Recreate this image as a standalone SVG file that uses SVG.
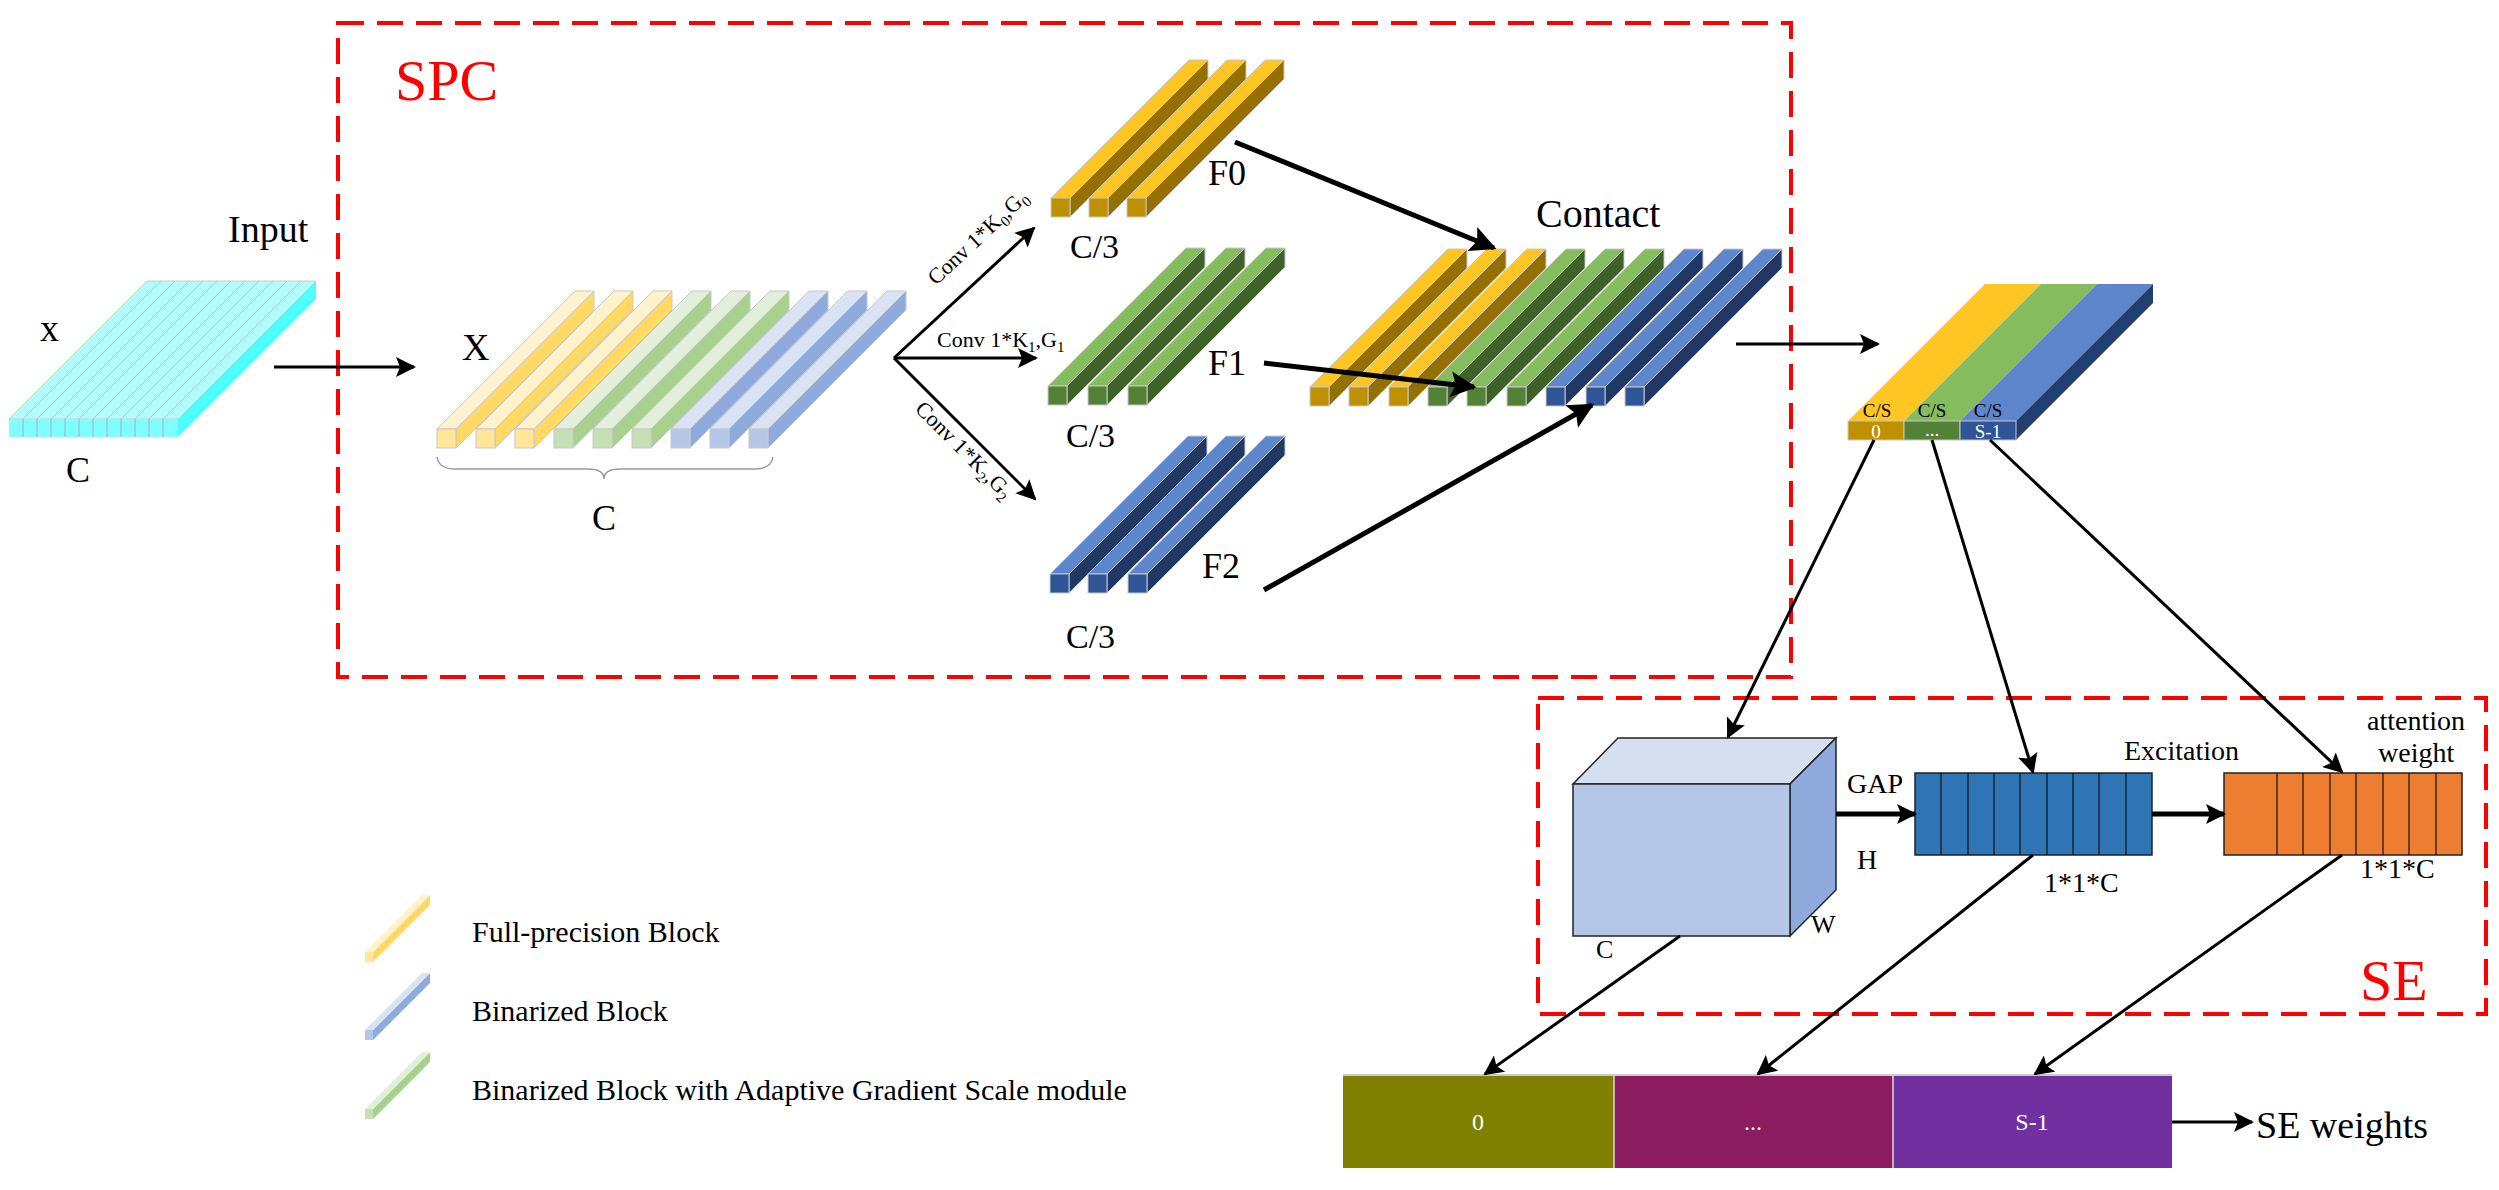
<svg xmlns="http://www.w3.org/2000/svg" xmlns:xlink="http://www.w3.org/1999/xlink" width="2499" height="1190" viewBox="0 0 2499 1190" font-family="'Liberation Serif', 'DejaVu Serif', serif">
<style>
text{font-family:'Liberation Serif','DejaVu Serif',serif;fill:#000}
.red{fill:#ff0000}
.dash{fill:none;stroke:#ff0000;stroke-width:4;stroke-dasharray:26 13}
.ln{fill:none;stroke:#000;stroke-width:3}
.thk{fill:none;stroke:#000;stroke-width:5}
.bs{stroke:#c8c8c8;stroke-width:1}
.wt{fill:#fff}
</style>
<defs>
<marker id="ah" viewBox="0 0 10 10" refX="9" refY="5" markerWidth="20" markerHeight="20" markerUnits="userSpaceOnUse" orient="auto"><path d="M0,0 L10,5 L0,10 L2,5 Z" fill="#000"/></marker>
<marker id="ahb" viewBox="0 0 10 10" refX="9" refY="5" markerWidth="26" markerHeight="26" markerUnits="userSpaceOnUse" orient="auto"><path d="M0,0 L10,5 L0,10 L2,5 Z" fill="#000"/></marker>
<g id="xy" class="bs"><polygon points="0,0 19,0 157,-138 138,-138" fill="#FFF2CC"/><polygon points="19,0 157,-138 157,-119 19,19" fill="#FFD966"/><rect width="19" height="19" fill="#FFE699"/></g>
<g id="xg" class="bs"><polygon points="0,0 19,0 157,-138 138,-138" fill="#E2EFDA"/><polygon points="19,0 157,-138 157,-119 19,19" fill="#A9D18E"/><rect width="19" height="19" fill="#C5E0B4"/></g>
<g id="xb" class="bs"><polygon points="0,0 19,0 157,-138 138,-138" fill="#DAE3F3"/><polygon points="19,0 157,-138 157,-119 19,19" fill="#8FAADC"/><rect width="19" height="19" fill="#B4C7E7"/></g>
<g id="fy" class="bs"><polygon points="0,0 19,0 157,-138 138,-138" fill="#FFC522"/><polygon points="19,0 157,-138 157,-119 19,19" fill="#937000"/><rect width="19" height="19" fill="#BF9000"/></g>
<g id="fg" class="bs"><polygon points="0,0 19,0 157,-138 138,-138" fill="#84BC5E"/><polygon points="19,0 157,-138 157,-119 19,19" fill="#3F6229"/><rect width="19" height="19" fill="#538135"/></g>
<g id="fb" class="bs"><polygon points="0,0 19,0 157,-138 138,-138" fill="#5E86CC"/><polygon points="19,0 157,-138 157,-119 19,19" fill="#203864"/><rect width="19" height="19" fill="#2F5597"/></g>
</defs>

<rect width="2499" height="1190" fill="#fff"/>

<g id="spc-box"><rect x="338" y="23" width="1453" height="654" class="dash"/><text x="395" y="100" font-size="58" class="red">SPC</text></g>
<g id="se-box"><rect x="1538" y="698" width="948" height="316" class="dash"/><text x="2360" y="1000" font-size="58" class="red">SE</text></g>

<g id="input">
<polygon points="147,281 316,281 178,419 9,419" fill="#B4FCFC" stroke="#ccc"/>
<g stroke="#c0c0c0" stroke-width="1">
<line x1="161" y1="281" x2="23" y2="419"/><line x1="175" y1="281" x2="37" y2="419"/><line x1="189" y1="281" x2="51" y2="419"/><line x1="203" y1="281" x2="65" y2="419"/><line x1="217" y1="281" x2="79" y2="419"/><line x1="231" y1="281" x2="93" y2="419"/><line x1="245" y1="281" x2="107" y2="419"/><line x1="259" y1="281" x2="121" y2="419"/><line x1="273" y1="281" x2="135" y2="419"/><line x1="287" y1="281" x2="149" y2="419"/><line x1="301" y1="281" x2="163" y2="419"/>
</g>
<polygon points="178,419 316,281 316,299 178,437" fill="#4DFFFF"/>
<rect x="9" y="419" width="169" height="18" fill="#7FFFFF"/>
<g stroke="#aaa" stroke-width="1"><line x1="23" y1="419" x2="23" y2="437"/><line x1="37" y1="419" x2="37" y2="437"/><line x1="51" y1="419" x2="51" y2="437"/><line x1="65" y1="419" x2="65" y2="437"/><line x1="79" y1="419" x2="79" y2="437"/><line x1="93" y1="419" x2="93" y2="437"/><line x1="107" y1="419" x2="107" y2="437"/><line x1="121" y1="419" x2="121" y2="437"/><line x1="135" y1="419" x2="135" y2="437"/><line x1="149" y1="419" x2="149" y2="437"/><line x1="163" y1="419" x2="163" y2="437"/></g>
<text x="228" y="242" font-size="38">Input</text>
<text x="40" y="341" font-size="38">x</text>
<text x="66" y="482" font-size="36">C</text>
</g>

<g id="x-split">
<use href="#xy" x="437" y="429"/><use href="#xy" x="476" y="429"/><use href="#xy" x="515" y="429"/>
<use href="#xg" x="554" y="429"/><use href="#xg" x="593" y="429"/><use href="#xg" x="632" y="429"/>
<use href="#xb" x="671" y="429"/><use href="#xb" x="710" y="429"/><use href="#xb" x="749" y="429"/>
<text x="462" y="360" font-size="38">X</text>
<path d="M437,457 q2,12 18,12 H588 q16,0 16,10 q0,-10 16,-10 H755 q16,0 18,-12" fill="none" stroke="#999" stroke-width="1.5"/>
<text x="592" y="530" font-size="36">C</text>
</g>

<g id="F0"><use href="#fy" x="1051" y="198"/><use href="#fy" x="1089" y="198"/><use href="#fy" x="1127" y="198"/>
<text x="1208" y="185" font-size="36">F0</text><text x="1070" y="258" font-size="34">C/3</text></g>
<g id="F1"><use href="#fg" x="1048" y="386"/><use href="#fg" x="1088" y="386"/><use href="#fg" x="1128" y="386"/>
<text x="1208" y="375" font-size="36">F1</text><text x="1066" y="447" font-size="34">C/3</text></g>
<g id="F2"><use href="#fb" x="1050" y="574"/><use href="#fb" x="1088" y="574"/><use href="#fb" x="1128" y="574"/>
<text x="1202" y="578" font-size="36">F2</text><text x="1066" y="648" font-size="34">C/3</text></g>

<g id="contact">
<use href="#fy" x="1310" y="387"/><use href="#fy" x="1349" y="387"/><use href="#fy" x="1389" y="387"/>
<use href="#fg" x="1428" y="387"/><use href="#fg" x="1467" y="387"/><use href="#fg" x="1507" y="387"/>
<use href="#fb" x="1546" y="387"/><use href="#fb" x="1586" y="387"/><use href="#fb" x="1625" y="387"/>
<text x="1536" y="227" font-size="40">Contact</text>
</g>

<g id="split-slab">
<polygon points="1848,421 1904,421 2041,284 1985,284" fill="#FFC522"/>
<polygon points="1904,421 1960,421 2097,284 2041,284" fill="#84BC5E"/>
<polygon points="1960,421 2016,421 2153,284 2097,284" fill="#5E86CC"/>
<polygon points="2016,421 2153,284 2153,303 2016,440" fill="#223F70"/>
<rect x="1848" y="421" width="56" height="19" fill="#BF9000" class="bs"/>
<rect x="1904" y="421" width="56" height="19" fill="#538135" class="bs"/>
<rect x="1960" y="421" width="56" height="19" fill="#2F5597" class="bs"/>
<g font-size="19" text-anchor="middle"><text x="1877" y="417">C/S</text><text x="1932" y="417">C/S</text><text x="1988" y="417">C/S</text>
<text x="1876" y="438" class="wt">0</text><text x="1932" y="436" class="wt">...</text><text x="1988" y="438" class="wt">S-1</text></g>
</g>

<g id="se-cube">
<polygon points="1573,784 1618,738 1836,738 1790,784" fill="#D6DFF0" stroke="#222" stroke-width="1.5"/>
<polygon points="1790,784 1836,738 1836,890 1790,936" fill="#8FAADC" stroke="#222" stroke-width="1.5"/>
<rect x="1573" y="784" width="217" height="152" fill="#B4C7E7" stroke="#222" stroke-width="1.5"/>
<text x="1847" y="793" font-size="28">GAP</text><text x="1857" y="869" font-size="28">H</text>
<text x="1811" y="933" font-size="26">W</text><text x="1596" y="958" font-size="26">C</text>
</g>
<g id="gap-vec">
<rect x="1915" y="773" width="237" height="82" fill="#2E75B6" stroke="#222" stroke-width="1.5"/>
<g stroke="#111" stroke-width="1.2"><line x1="1941" y1="773" x2="1941" y2="855"/><line x1="1968" y1="773" x2="1968" y2="855"/><line x1="1994" y1="773" x2="1994" y2="855"/><line x1="2020" y1="773" x2="2020" y2="855"/><line x1="2047" y1="773" x2="2047" y2="855"/><line x1="2073" y1="773" x2="2073" y2="855"/><line x1="2099" y1="773" x2="2099" y2="855"/><line x1="2126" y1="773" x2="2126" y2="855"/></g>
<text x="2044" y="892" font-size="28">1*1*C</text>
<text x="2124" y="760" font-size="28">Excitation</text>
</g>
<g id="att-vec">
<rect x="2224" y="773" width="238" height="82" fill="#ED7D31" stroke="#222" stroke-width="1.5"/>
<g stroke="#111" stroke-width="1.2"><line x1="2277" y1="773" x2="2277" y2="855"/><line x1="2303" y1="773" x2="2303" y2="855"/><line x1="2330" y1="773" x2="2330" y2="855"/><line x1="2356" y1="773" x2="2356" y2="855"/><line x1="2383" y1="773" x2="2383" y2="855"/><line x1="2409" y1="773" x2="2409" y2="855"/><line x1="2436" y1="773" x2="2436" y2="855"/></g>
<text x="2360" y="878" font-size="28">1*1*C</text>
<text x="2367" y="730" font-size="28">attention</text><text x="2378" y="762" font-size="28">weight</text>
</g>

<g id="se-weights">
<rect x="1343" y="1075" width="271" height="93" fill="#7F7F00"/>
<rect x="1614" y="1075" width="279" height="93" fill="#8B1C5F"/>
<rect x="1893" y="1075" width="279" height="93" fill="#7030A0"/>
<line x1="1343" y1="1075" x2="2172" y2="1075" stroke="#ccc" stroke-width="2"/>
<line x1="1614" y1="1075" x2="1614" y2="1168" stroke="#ddd" stroke-width="1.5"/><line x1="1893" y1="1075" x2="1893" y2="1168" stroke="#ddd" stroke-width="1.5"/>
<g font-size="24" text-anchor="middle"><text x="1478" y="1130" class="wt">0</text><text x="1753" y="1130" class="wt">...</text><text x="2032" y="1130" class="wt">S-1</text></g>
<text x="2256" y="1138" font-size="38">SE weights</text>
</g>

<g id="legend">
<polygon points="373,952 430,895 430,905 373,962" fill="#FFD966"/><polygon points="365,952 422,895 430,895 373,952" fill="#FFF2CC"/><rect x="365" y="952" width="8" height="10" fill="#FFE699"/>
<text x="472" y="942" font-size="30">Full-precision Block</text>
<polygon points="373,1030 430,973 430,983 373,1040" fill="#8FAADC"/><polygon points="365,1030 422,973 430,973 373,1030" fill="#DAE3F3"/><rect x="365" y="1030" width="8" height="10" fill="#B4C7E7"/>
<text x="472" y="1021" font-size="30">Binarized Block</text>
<polygon points="373,1109 430,1052 430,1062 373,1119" fill="#A9D18E"/><polygon points="365,1109 422,1052 430,1052 373,1109" fill="#E2EFDA"/><rect x="365" y="1109" width="8" height="10" fill="#C5E0B4"/>
<text x="472" y="1100" font-size="30">Binarized Block with Adaptive Gradient Scale module</text>
</g>

<g id="connectors">
<line x1="274" y1="367" x2="414" y2="367" class="ln" marker-end="url(#ah)"/>
<line x1="894" y1="358" x2="1034" y2="228" class="ln" marker-end="url(#ah)"/>
<line x1="894" y1="358" x2="1036" y2="358" class="ln" marker-end="url(#ah)"/>
<line x1="894" y1="358" x2="1035" y2="499" class="ln" marker-end="url(#ah)"/>
<line x1="1235" y1="142" x2="1494" y2="248" class="thk" marker-end="url(#ahb)"/>
<line x1="1264" y1="363" x2="1474" y2="387" class="thk" marker-end="url(#ahb)"/>
<line x1="1264" y1="590" x2="1592" y2="405" class="thk" marker-end="url(#ahb)"/>
<line x1="1736" y1="344" x2="1878" y2="344" class="ln" marker-end="url(#ah)"/>
<line x1="1874" y1="440" x2="1728" y2="737" class="ln" marker-end="url(#ah)"/>
<line x1="1932" y1="440" x2="2033" y2="772" class="ln" marker-end="url(#ah)"/>
<line x1="1990" y1="440" x2="2342" y2="772" class="ln" marker-end="url(#ah)"/>
<line x1="1836" y1="814" x2="1915" y2="814" class="thk" marker-end="url(#ah)"/>
<line x1="2152" y1="814" x2="2224" y2="814" class="thk" marker-end="url(#ah)"/>
<line x1="1680" y1="936" x2="1485" y2="1074" class="ln" marker-end="url(#ah)"/>
<line x1="2033" y1="855" x2="1758" y2="1074" class="ln" marker-end="url(#ah)"/>
<line x1="2342" y1="855" x2="2035" y2="1074" class="ln" marker-end="url(#ah)"/>
<line x1="2172" y1="1122" x2="2252" y2="1122" class="ln" marker-end="url(#ah)"/>
</g>
<g id="conv-labels" font-size="22">
<text transform="translate(936,286) rotate(-43)">Conv 1*K<tspan font-size="15" dy="5">0</tspan><tspan dy="-5">,G</tspan><tspan font-size="15" dy="5">0</tspan></text>
<text x="937" y="347">Conv 1*K<tspan font-size="15" dy="5">1</tspan><tspan dy="-5">,G</tspan><tspan font-size="15" dy="5">1</tspan></text>
<text transform="translate(914,410) rotate(45)">Conv 1*K<tspan font-size="15" dy="5">2</tspan><tspan dy="-5">,G</tspan><tspan font-size="15" dy="5">2</tspan></text>
</g>
</svg>
